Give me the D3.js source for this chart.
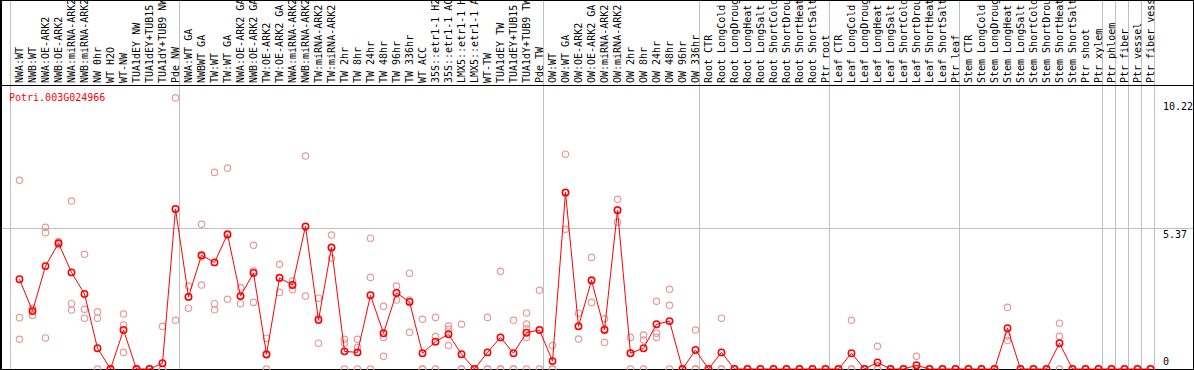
<!DOCTYPE html>
<html lang="en">
<head>
<meta charset="utf-8">
<title>Potri.003G024966</title>
<script src="https://cdnjs.cloudflare.com/ajax/libs/d3/7.8.5/d3.min.js"></script>
<style>
    body { margin: 0; background: #fff; }
    svg { display: block; font-family: "DejaVu Sans Mono", monospace; font-size: 10px; }
    .sep line { stroke: #c0c0c0; stroke-width: 1; }
    .frame line { stroke: #000; stroke-width: 1; }
    .grid line { stroke: #c0c0c0; stroke-width: 1; }
    .rep { fill: none; stroke: #e89a9a; stroke-width: 1.2; }
    .mean { fill: none; stroke: #ff0000; stroke-width: 1.5; }
    .trend { fill: none; stroke: #ff0000; stroke-width: 1; }
</style>
</head>
<body>
<svg id="chart"></svg>

<script>
const geneName = "Potri.003G024966";

const samples = [
    "NWA:WT", "NWB:WT", "NWA:OE-ARK2", "NWB:OE-ARK2", "NWA:miRNA-ARK2", "NWB:miRNA-ARK2",
    "NW 0hr", "WT H2O", "WT-NW", "TUA1dEY NW", "TUA1dEY+TUB15 NW", "TUA1dY+TUB9 NW", "Pde NW",
    "NWA:WT GA", "NWBWT GA", "TW:WT", "TW:WT GA", "NWA:OE-ARK2 GA", "NWB:OE-ARK2 GA",
    "TW:OE-ARK2", "TW:OE-ARK2 GA", "NWA:miRNA-ARK2", "NWB:miRNA-ARK2", "TW:miRNA-ARK2",
    "TW:miRNA-ARK2", "TW 2hr", "TW 8hr", "TW 24hr", "TW 48hr", "TW 96hr", "TW 336hr", "WT ACC",
    "35S::etr1-1 H2O", "35S::etr1-1 ACC", "LMX5::etr1-1 H2O", "LMX5::etr1-1 ACC", "WT-TW",
    "TUA1dEY TW", "TUA1dEY+TUB15 TW", "TUA1dY+TUB9 TW", "Pde TW",
    "OW:WT", "OW:WT GA", "OW:OE-ARK2", "OW:OE-ARK2 GA", "OW:miRNA-ARK2", "OW:miRNA-ARK2",
    "OW 2hr", "OW 8hr", "OW 24hr", "OW 48hr", "OW 96hr", "OW 336hr",
    "Root CTR", "Root LongCold", "Root LongDrought", "Root LongHeat", "Root LongSalt",
    "Root ShortCold", "Root ShortDrought", "Root ShortHeat", "Root ShortSalt", "Ptr root",
    "Leaf CTR", "Leaf LongCold", "Leaf LongDrought", "Leaf LongHeat", "Leaf LongSalt",
    "Leaf ShortCold", "Leaf ShortDrought", "Leaf ShortHeat", "Leaf ShortSalt", "Ptr leaf",
    "Stem CTR", "Stem LongCold", "Stem LongDrought", "Stem LongHeat", "Stem LongSalt",
    "Stem ShortCold", "Stem ShortDrought", "Stem ShortHeat", "Stem ShortSalt", "Ptr shoot",
    "Ptr xylem", "Ptr phloem", "Ptr fiber", "Ptr vessel", "Ptr fiber vessel"
];

// index of the first sample of each experiment block (last entry = end)
const groupStarts = [0, 13, 41, 53, 63, 73, 84, 85, 86, 87, 88];

const means = [
    3.41, 2.20, 3.91, 4.78, 3.67, 2.85, 0.79, 0, 1.48, 0, 0, 0.22, 6.08,
    2.74, 4.32, 4.05, 5.12, 2.77, 3.65, 0.56, 3.46, 3.19, 5.42, 1.86, 4.62, 0.67,
    0.63, 2.80, 1.36, 2.89, 2.55, 0.60, 1.04, 1.32, 0.56, 0, 0.63, 1.20, 0.60, 1.38, 1.48,
    0.30, 6.71, 1.62, 3.37, 1.48, 6.03, 0.60, 0.79, 1.70, 1.82, 0, 0.72,
    0, 0.63, 0, 0, 0, 0, 0, 0, 0, 0,
    0, 0.60, 0, 0.25, 0, 0, 0.14, 0, 0, 0,
    0, 0, 0, 1.55, 0, 0, 0, 0.98, 0, 0, 0,
    0, 0, 0, 0
];

const replicates = [
    [7.17, 1.95, 1.13], [2.31, 2.28, 2.03], [5.38, 5.18, 1.18], [4.72, 4.78, 4.84],
    [6.38, 2.48, 2.24], [4.36, 2.27, 1.93], [2.17, 1.93, 0], [0, 0, 0],
    [2.09, 1.67, 0.63], [0, 0, 0], [0, 0, 0], [1.62, 0, 0], [10.30, 1.85, 6.08],
    [3.15, 2.31, 2.75], [5.50, 3.19, 4.27], [7.47, 2.48, 2.25], [7.63, 2.65, 5.08],
    [3.09, 2.48, 2.77], [4.70, 2.53, 3.72], [1.17, 0.52, 0], [3.98, 2.91, 3.48],
    [3.34, 3.01, 3.19], [8.09, 2.77, 5.39], [2.69, 0.98, 1.94], [5.09, 4.21, 4.60],
    [1.13, 0.98, 0], [1.13, 0.82, 0], [4.97, 3.48, 0], [2.38, 1.20, 0.48],
    [3.15, 2.62, 2.89], [3.64, 1.39, 2.62], [1.89, 0, 0], [1.96, 1.23, 0],
    [1.63, 1.51, 0.89], [1.70, 0, 0], [0, 0, 0], [1.96, 0, 0], [3.71, 0, 0],
    [1.85, 0, 0], [2.13, 1.71, 1.53, 1.20, 0], [2.99, 1.48, 0],
    [0.89, 0, 0], [8.16, 5.31, 6.68], [2.12, 1.14, 1.63], [4.24, 2.53, 3.34],
    [1.91, 1.01, 1.52], [6.45, 5.58, 6.05], [1.20, 0.61, 0], [1.29, 1.10, 0],
    [2.57, 1.36, 1.20], [3.03, 2.42, 0], [0, 0, 0], [1.48, 0, 0],
    [0, 0, 0], [1.93, 0, 0], [0, 0, 0], [0, 0, 0], [0, 0, 0],
    [0, 0, 0], [0, 0, 0], [0, 0, 0], [0, 0, 0], [0, 0, 0],
    [0, 0, 0], [1.85, 0, 0], [0, 0, 0], [0.86, 0, 0], [0, 0, 0],
    [0, 0, 0], [0.48, 0, 0], [0, 0, 0], [0, 0, 0], [0, 0, 0],
    [0, 0, 0], [0, 0, 0], [0, 0, 0], [2.34, 1.25, 1.08], [0, 0, 0],
    [0, 0, 0], [0, 0, 0], [1.74, 1.24, 0], [0, 0, 0], [0, 0, 0], [0, 0, 0],
    [0, 0, 0], [0, 0, 0], [0, 0, 0], [0, 0, 0]
];

const yTicks = [0, 5.37, 10.22];

// ---- layout
var width = 1194, height = 370;
var headerY = 85;          // line under the sample names
var plotLeft = 11, plotRight = 1155;

var svg = d3.select("#chart")
    .attr("width", width)
    .attr("height", height);

var x = d3.scaleLinear()
    .domain([0, samples.length])
    .range([plotLeft, plotRight]);

var y = d3.scaleLinear()
    .domain([0, 10.22])
    .range([369, 100]);

function px(i) { return x(i) + 8.5; }

// block separators (run through the header too)
svg.append("g").attr("class", "sep")
    .selectAll("line")
    .data(groupStarts)
    .enter().append("line")
    .attr("x1", function(d) { return Math.round(x(d)) - 0.5; })
    .attr("x2", function(d) { return Math.round(x(d)) - 0.5; })
    .attr("y1", 0)
    .attr("y2", height);

// horizontal grid (skip 0 and top)
svg.append("g").attr("class", "grid")
    .selectAll("line")
    .data(yTicks.filter(function(t) { return t > 0 && t < 10; }))
    .enter().append("line")
    .attr("x1", 0)
    .attr("x2", width)
    .attr("y1", function(d) { return Math.round(y(d)) + 0.5; })
    .attr("y2", function(d) { return Math.round(y(d)) + 0.5; });

// frame
var frame = svg.append("g").attr("class", "frame");
frame.append("line").attr("x1", 0).attr("x2", width).attr("y1", 0.5).attr("y2", 0.5);
frame.append("line").attr("x1", 0).attr("x2", width).attr("y1", headerY + 0.5).attr("y2", headerY + 0.5);
frame.append("line").attr("x1", 0).attr("x2", width).attr("y1", 369.5).attr("y2", 369.5);
frame.append("line").attr("x1", 1).attr("x2", 1).attr("y1", 0).attr("y2", height).style("stroke-width", 2);
frame.append("line").attr("x1", 1193.5).attr("x2", 1193.5).attr("y1", 0).attr("y2", height);

// sample names, rotated
svg.append("g")
    .selectAll("text")
    .data(samples)
    .enter().append("text")
    .attr("transform", function(d, i) {
        return "translate(" + (x(i) + 11.5) + "," + (headerY - 2) + ") rotate(-90)";
    })
    .attr("fill", "#000")
    .text(function(d) { return d; });

// right hand value labels
svg.append("g")
    .selectAll("text")
    .data(yTicks)
    .enter().append("text")
    .attr("x", 1163)
    .attr("y", function(d) { return d === 0 ? y(d) - 4 : y(d) + 10; })
    .attr("fill", "#000")
    .text(function(d) { return d; });

// gene id
svg.append("text")
    .attr("x", 9)
    .attr("y", 101)
    .attr("fill", "#ff0000")
    .text(geneName);

// replicate points
var repPts = [];
replicates.forEach(function(list, i) {
    list.forEach(function(v) { repPts.push({ i: i, v: v }); });
});

svg.append("g")
    .selectAll("circle")
    .data(repPts)
    .enter().append("circle")
    .attr("class", "rep")
    .attr("cx", function(d) { return px(d.i); })
    .attr("cy", function(d) { return y(d.v); })
    .attr("r", 3.2);

// mean trace
var line = d3.line()
    .x(function(d, i) { return px(i); })
    .y(function(d) { return y(d); });

svg.append("path")
    .datum(means)
    .attr("class", "trend")
    .attr("d", line);

svg.append("g")
    .selectAll("circle")
    .data(means)
    .enter().append("circle")
    .attr("class", "mean")
    .attr("cx", function(d, i) { return px(i); })
    .attr("cy", function(d) { return y(d); })
    .attr("r", 3.2);
</script>
</body>
</html>
